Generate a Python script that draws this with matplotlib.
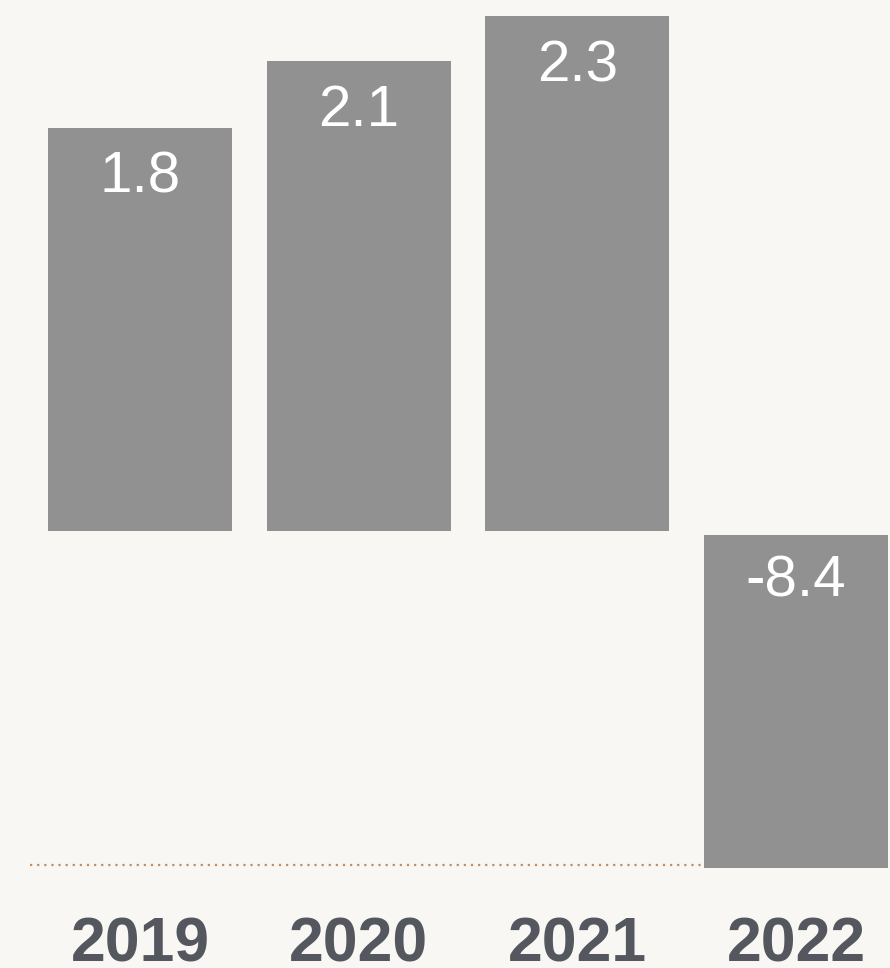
import matplotlib
matplotlib.use("Agg")
import matplotlib.pyplot as plt
import matplotlib.transforms as mtransforms

years = ["2019", "2020", "2021", "2022"]
values = [1.8, 2.1, 2.3, -8.4]

BG = "#f8f7f3"
BAR = "#919191"
YEAR_COLOR = "#54585e"
BASE_COLOR = "#bf9068"

W, H = 890, 968
fig = plt.figure(figsize=(W / 100, H / 100), dpi=100, facecolor=BG)

# x extent shared by both panels: bar centres at 140 px, spacing ~219 px
step = 218.7
x0 = -140 / step
x1 = (W - 140) / step
bar_w = 184 / step

# positive panel: zero line at 530 px from top, 223.5 px per unit
zero_top = 530.5
ax_pos = fig.add_axes([0, (H - zero_top) / H, 1, zero_top / H])
ax_pos.set_ylim(0, zero_top / 223.5)

# negative panel: separate scale, drawn below a small gap
neg_top, neg_bot = 535, 868
ax_neg = fig.add_axes([0, (H - neg_bot) / H, 1, (neg_bot - neg_top) / H])
ax_neg.set_ylim(min(values), 0)

pos = [(i, v) for i, v in enumerate(values) if v >= 0]
neg = [(i, v) for i, v in enumerate(values) if v < 0]

for ax, items, drop in ((ax_pos, pos, 46.5), (ax_neg, neg, 44.5)):
    ax.set_xlim(x0, x1)
    ax.set_facecolor("none")
    ax.axis("off")
    xs = [i for i, _ in items]
    vs = [v for _, v in items]
    ax.bar(xs, vs, width=bar_w, color=BAR, zorder=2)
    for i, v in items:
        top = v if v >= 0 else 0
        ax.annotate(f"{v:.1f}", xy=(i, top), xytext=(0, -drop),
                    textcoords="offset points", ha="center", va="baseline",
                    color="white", fontsize=42, family="Liberation Sans",
                    zorder=3)

# dotted baseline, tucked behind the negative bar
base_y = (neg_bot - 865.3) / (neg_bot - neg_top)
ax_neg.plot([30 / W, 1], [base_y, base_y], transform=ax_neg.transAxes,
            color=BASE_COLOR, linestyle=(0, (1, 2.2)), linewidth=1.6,
            dash_capstyle="butt", clip_on=False, zorder=1)

# year labels
trans = mtransforms.blended_transform_factory(ax_neg.transData, fig.transFigure)
for i, yr in enumerate(years):
    fig.text(i, (H - 961) / H, yr, transform=trans, ha="center",
             va="baseline", fontsize=45, fontweight="bold",
             family="Liberation Sans", color=YEAR_COLOR)

fig.savefig("out.png", dpi=100, facecolor=BG)
